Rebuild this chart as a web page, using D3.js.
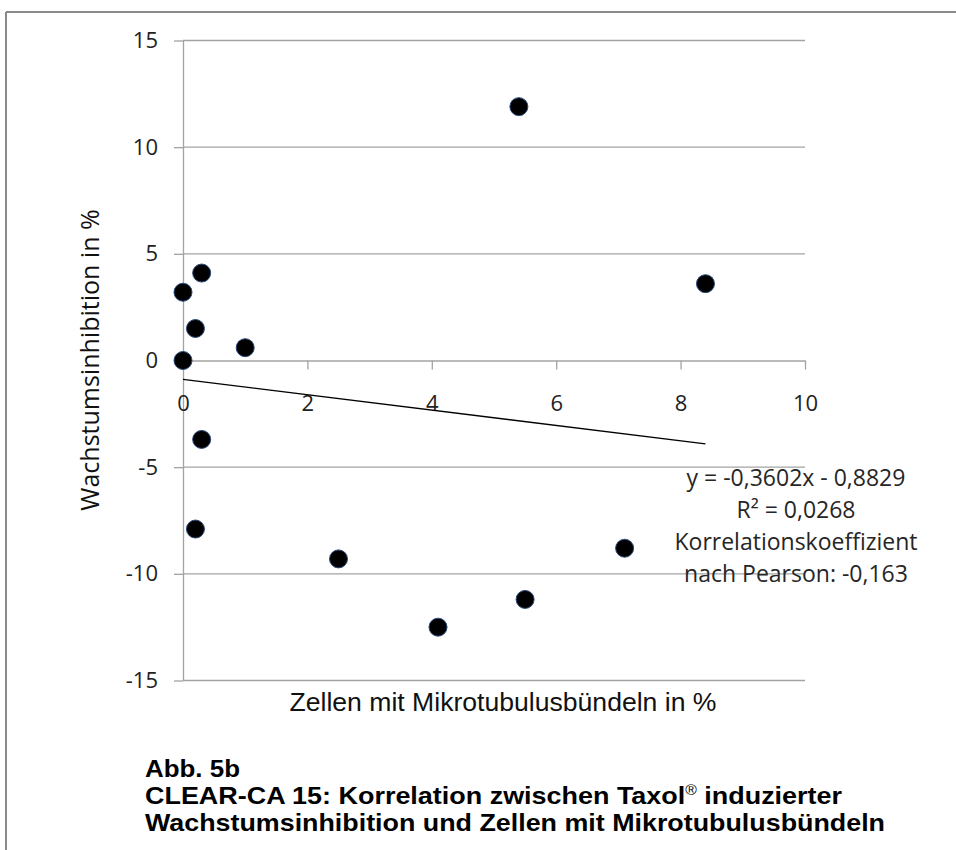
<!DOCTYPE html>
<html>
<head>
<meta charset="utf-8">
<script src="https://cdn.jsdelivr.net/npm/d3@7"></script>
<style>
  html, body { margin: 0; padding: 0; background: #fff; }
  svg { display: block; }
</style>
</head>
<body>
<svg id="chart" width="956" height="850"></svg>
<script>
// ---- data ----
const xValues = [0, 0, 0.3, 0.2, 1.0, 5.4, 8.4, 0.3, 0.2, 2.5, 4.1, 5.5, 7.1];
const yValues = [0, 3.2, 4.1, 1.5, 0.6, 11.9, 3.6, -3.7, -7.9, -9.3, -12.5, -11.2, -8.8];
const xTicks = [0, 2, 4, 6, 8, 10];
const yTicks = [15, 10, 5, 0, -5, -10, -15];
const trendSlope = -0.3602;
const trendIntercept = -0.8829;
const equationLines = ["y = -0,3602x - 0,8829", "R\u00B2 = 0,0268", "Korrelationskoeffizient", "nach Pearson: -0,163"];
const xTitle = "Zellen mit Mikrotubulusbündeln in %";
const yTitle = "Wachstumsinhibition in %";
const captionLines = ["Abb. 5b", "CLEAR-CA 15: Korrelation zwischen Taxol\u00AE induzierter", "Wachstumsinhibition und Zellen mit Mikrotubulusbündeln"];

// ---- drawing ----
const svg = d3.select("#chart");
const x = d3.scaleLinear().domain([0, 10]).range([183, 805]);
const y = d3.scaleLinear().domain([-15, 15]).range([680.5, 40.5]);
const calib = "'Open Sans', 'Noto Sans', sans-serif";
const arial = "'Liberation Sans', Arial, sans-serif";
const gridColor = "#a3a3a3";

// outer frame (top and left)
svg.append("line").attr("x1", 6).attr("x2", 956).attr("y1", 12).attr("y2", 12)
  .attr("stroke", "#8a8a8a").attr("stroke-width", 2);
svg.append("line").attr("x1", 6).attr("x2", 6).attr("y1", 12).attr("y2", 850)
  .attr("stroke", "#8a8a8a").attr("stroke-width", 2);

// horizontal gridlines
svg.append("g").selectAll("line").data(yTicks.filter(d => d !== 0)).join("line")
  .attr("x1", x(0)).attr("x2", x(10))
  .attr("y1", d => y(d)).attr("y2", d => y(d))
  .attr("stroke", gridColor).attr("stroke-width", 1.3);

// y axis
const yAxis = svg.append("g").attr("transform", `translate(${x(0)},0)`)
  .call(d3.axisLeft(y).tickValues(yTicks).tickSizeInner(9).tickSizeOuter(0).tickPadding(16)
    .tickFormat(d => d3.format("d")(d).replace("\u2212", "-")));
// x axis at y=0
const xAxis = svg.append("g").attr("transform", `translate(0,${y(0)})`)
  .call(d3.axisBottom(x).tickValues(xTicks).tickSizeInner(9).tickSizeOuter(0).tickPadding(26));

[yAxis, xAxis].forEach(g => {
  g.select(".domain").attr("stroke", gridColor).attr("stroke-width", 1.3);
  g.selectAll(".tick line").attr("stroke", gridColor).attr("stroke-width", 1.3);
  g.selectAll(".tick text").attr("font-family", calib).attr("font-size", 22).attr("fill", "#222");
});

// trendline
const xMax = d3.max(xValues);
svg.append("line")
  .attr("x1", x(0)).attr("y1", y(trendIntercept))
  .attr("x2", x(xMax)).attr("y2", y(trendIntercept + trendSlope * xMax))
  .attr("stroke", "#000").attr("stroke-width", 1.3);

// points
svg.append("g").selectAll("circle").data(xValues.map((v, i) => [v, yValues[i]])).join("circle")
  .attr("cx", d => x(d[0])).attr("cy", d => y(d[1])).attr("r", 9)
  .attr("fill", "#000").attr("stroke", "#2a4a7a").attr("stroke-width", 1);

// equation text
svg.append("g").selectAll("text").data(equationLines).join("text")
  .attr("x", 796).attr("y", (d, i) => 486 + i * 32)
  .attr("text-anchor", "middle").attr("font-family", calib).attr("font-size", 23).attr("fill", "#262626")
  .text(d => d);

// axis titles
svg.append("text").attr("x", 503).attr("y", 711).attr("text-anchor", "middle")
  .attr("font-family", arial).attr("font-size", 25).attr("fill", "#111")
  .attr("textLength", 427).attr("lengthAdjust", "spacingAndGlyphs")
  .text(xTitle);
svg.append("text").attr("transform", "translate(99,360) rotate(-90)").attr("text-anchor", "middle")
  .attr("font-family", calib).attr("font-size", 25).attr("fill", "#111")
  .text(yTitle);

// caption
const capBase = [777, 804, 831];
const capWidths = [95, 697, 740];
captionLines.forEach((line, i) => {
  const t = svg.append("text").attr("x", 145).attr("y", capBase[i])
    .attr("font-family", arial).attr("font-weight", "bold").attr("font-size", 24).attr("fill", "#000")
    .attr("textLength", capWidths[i]).attr("lengthAdjust", "spacingAndGlyphs");
  if (line.includes("\u00AE")) {
    const parts = line.split("\u00AE");
    t.append("tspan").text(parts[0]);
    t.append("tspan").attr("font-size", 14).attr("font-weight", "normal").attr("dy", -9).text("\u00AE");
    t.append("tspan").attr("dy", 9).text(parts[1]);
  } else {
    t.text(line);
  }
});
</script>
</body>
</html>
